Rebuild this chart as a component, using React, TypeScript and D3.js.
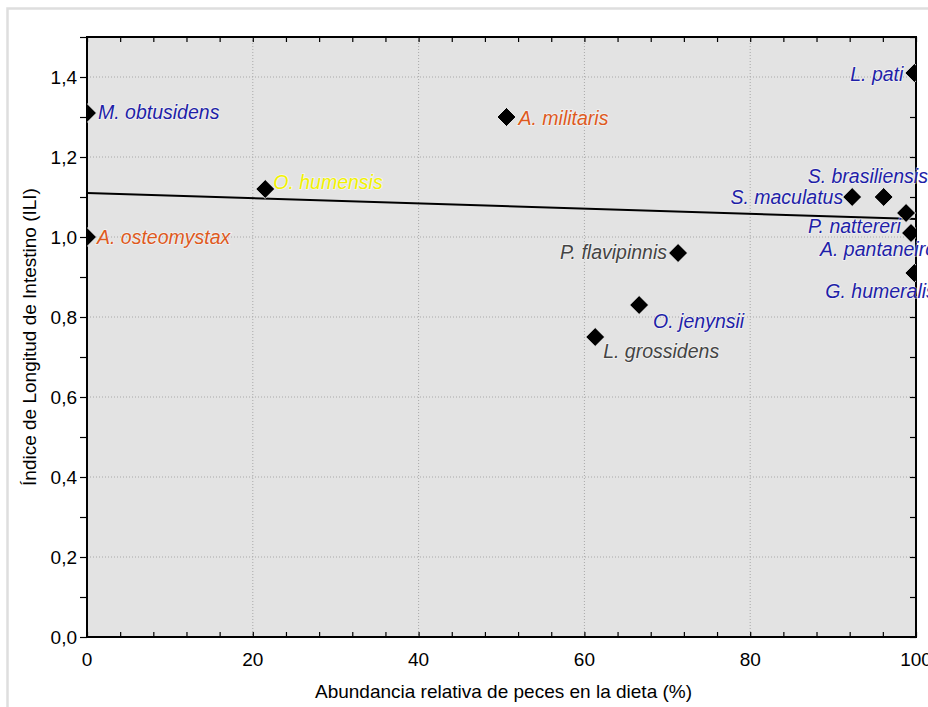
import { useEffect, useRef } from 'react'
import * as d3 from 'd3'

// species, % fish in diet, intestine length index
const species = [
  'M. obtusidens', 'A. osteomystax', 'O. humensis', 'A. militaris', 'L. pati',
  'S. brasiliensis', 'S. maculatus', 'P. nattereri', 'A. pantaneiro', 'G. humeralis',
  'P. flavipinnis', 'O. jenynsii', 'L. grossidens',
]
const fishPct = [0, 0, 21.5, 50.6, 99.8, 96.1, 92.3, 98.8, 99.4, 99.8, 71.3, 66.6, 61.3]
const ili = [1.31, 1.0, 1.12, 1.3, 1.41, 1.1, 1.1, 1.06, 1.01, 0.91, 0.96, 0.83, 0.75]
const group = ['b', 'o', 'y', 'o', 'b', 'b', 'b', 'b', 'b', 'b', 'g', 'b', 'g']

const xTicks = [0, 20, 40, 60, 80, 100]
const yTicks = [0, 0.2, 0.4, 0.6, 0.8, 1.0, 1.2, 1.4]

// fitted line
const fitIntercept = 1.11
const fitSlope = -0.00065

const groupColor: Record<string, string> = {
  b: '#1f1fa8',
  o: '#de5a1e',
  y: '#f2f200',
  g: '#444444',
}

// label placement: anchor, dx, dy (px, relative to marker)
const labelPos: Record<string, [string, number, number]> = {
  'M. obtusidens': ['start', 11, 6],
  'A. osteomystax': ['start', 10, 7],
  'O. humensis': ['start', 8, 0],
  'A. militaris': ['start', 12, 8],
  'L. pati': ['end', -11, 8],
  'S. brasiliensis': ['start', -76, -14],
  'S. maculatus': ['end', -9, 7],
  'P. nattereri': ['start', -98, 20],
  'A. pantaneiro': ['start', -91, 23],
  'G. humeralis': ['start', -89, 25],
  'P. flavipinnis': ['end', -11, 6],
  'O. jenynsii': ['start', 14, 23],
  'L. grossidens': ['start', 8, 21],
}

export default function App() {
  const svgRef = useRef<SVGSVGElement>(null)

  useEffect(() => {
    const svg = d3.select(svgRef.current)
    svg.selectAll('*').remove()

    const W = 928
    const H = 707
    const margin = { top: 37, right: 12, bottom: 70, left: 87 }
    const width = W - margin.left - margin.right
    const height = H - margin.top - margin.bottom

    svg.attr('width', W).attr('height', H)

    // outer frame
    svg.append('rect')
      .attr('x', 7.5).attr('y', 8.5).attr('width', W).attr('height', H)
      .attr('fill', '#fff').attr('stroke', '#dedede').attr('stroke-width', 2.5)

    const g = svg.append('g').attr('transform', `translate(${margin.left},${margin.top})`)

    const x = d3.scaleLinear().domain([0, 100]).range([0, width])
    const y = d3.scaleLinear().domain([0, 1.5]).range([height, 0])

    g.append('rect').attr('width', width).attr('height', height).attr('fill', '#e3e3e3')

    g.append('clipPath').attr('id', 'plotclip')
      .append('rect').attr('width', width).attr('height', height)

    // grid
    g.selectAll('line.gx')
      .data(xTicks.filter((d) => d > 0 && d < 100))
      .join('line')
      .attr('x1', (d) => x(d)).attr('x2', (d) => x(d))
      .attr('y1', 0).attr('y2', height)
      .attr('stroke', '#a8a8a8').attr('stroke-dasharray', '1,2')
    g.selectAll('line.gy')
      .data(yTicks.filter((d) => d > 0))
      .join('line')
      .attr('x1', 0).attr('x2', width)
      .attr('y1', (d) => y(d)).attr('y2', (d) => y(d))
      .attr('stroke', '#a8a8a8').attr('stroke-dasharray', '1,2')

    // axes
    const font = 'Arial, "Liberation Sans", sans-serif'
    const minorX = d3.range(0, 100.01, 4)
    const minorY = d3.range(0, 1.501, 0.1)

    const bottom = g.append('g').attr('transform', `translate(0,${height})`)
      .call(d3.axisBottom(x).tickValues(minorX).tickSize(-5).tickFormat(() => ''))
    bottom.select('.domain').remove()
    const top = g.append('g')
      .call(d3.axisTop(x).tickValues(minorX).tickSize(-5).tickFormat(() => ''))
    top.select('.domain').remove()
    const left = g.append('g')
      .call(d3.axisLeft(y).tickValues(minorY).tickSize(7).tickFormat(() => ''))
    left.select('.domain').remove()
    const right = g.append('g').attr('transform', `translate(${width},0)`)
      .call(d3.axisRight(y).tickValues(minorY).tickSize(-6).tickFormat(() => ''))
    right.select('.domain').remove()
    g.selectAll('.tick line').attr('stroke', '#000').attr('stroke-width', 1.2)

    g.append('rect').attr('width', width).attr('height', height)
      .attr('fill', 'none').attr('stroke', '#000').attr('stroke-width', 2)

    g.selectAll('text.xl')
      .data(xTicks)
      .join('text')
      .attr('x', (d) => x(d)).attr('y', height + 29)
      .attr('text-anchor', 'middle')
      .attr('font-family', font).attr('font-size', 19)
      .text((d) => d)

    g.selectAll('text.yl')
      .data(yTicks)
      .join('text')
      .attr('x', -10).attr('y', (d) => y(d))
      .attr('dy', '0.35em')
      .attr('text-anchor', 'end')
      .attr('font-family', font).attr('font-size', 19)
      .text((d) => d.toFixed(1).replace('.', ','))

    g.append('text')
      .attr('x', width / 2 + 2).attr('y', height + 61)
      .attr('text-anchor', 'middle')
      .attr('font-family', font).attr('font-size', 19)
      .text('Abundancia relativa de peces en la dieta (%)')

    g.append('text')
      .attr('transform', 'rotate(-90)')
      .attr('x', -height / 2).attr('y', -51)
      .attr('text-anchor', 'middle')
      .attr('font-family', font).attr('font-size', 19)
      .text('Índice de Longitud de Intestino (ILI)')

    // regression line
    g.append('line')
      .attr('x1', x(0)).attr('y1', y(fitIntercept))
      .attr('x2', x(100)).attr('y2', y(fitIntercept + fitSlope * 100))
      .attr('stroke', '#000').attr('stroke-width', 2)

    // points
    const pts = species.map((name, i) => ({ name, x: fishPct[i], y: ili[i], grp: group[i] }))
    const diamond = d3.symbol().type(d3.symbolSquare).size(180)
    g.append('g').attr('clip-path', 'url(#plotclip)')
      .selectAll('path')
      .data(pts)
      .join('path')
      .attr('d', diamond)
      .attr('transform', (d) => `translate(${x(d.x)},${y(d.y)}) rotate(45)`)
      .attr('fill', '#000').attr('stroke', '#fff').attr('stroke-width', 0.8)

    // labels
    g.selectAll('text.lab')
      .data(pts)
      .join('text')
      .attr('x', (d) => x(d.x) + labelPos[d.name][1])
      .attr('y', (d) => y(d.y) + labelPos[d.name][2])
      .attr('text-anchor', (d) => labelPos[d.name][0])
      .attr('font-family', font).attr('font-size', 19.5).attr('font-style', 'italic')
      .attr('fill', (d) => groupColor[d.grp])
      .attr('stroke', 'rgba(255,255,255,0.55)').attr('stroke-width', 1.5)
      .attr('paint-order', 'stroke')
      .text((d) => d.name)
  }, [])

  return <svg ref={svgRef} style={{ position: 'absolute', left: 0, top: 0, background: '#fff' }} />
}
